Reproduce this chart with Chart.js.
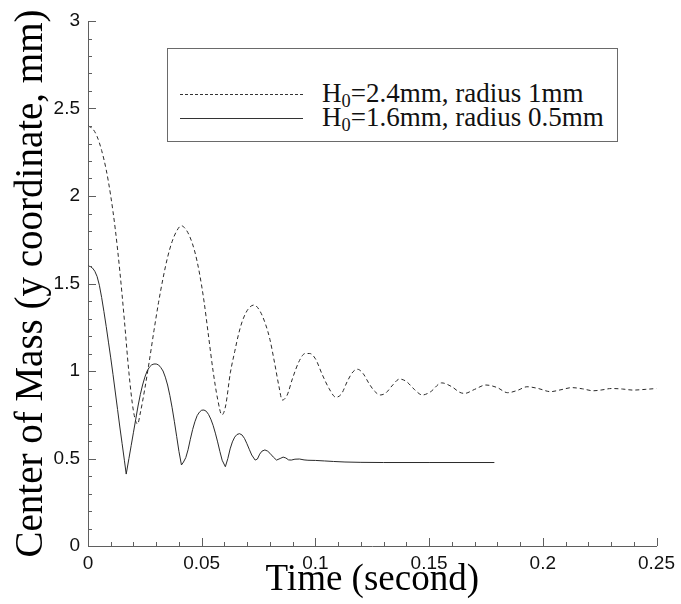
<!DOCTYPE html>
<html>
<head>
<meta charset="utf-8">
<script src="https://cdn.jsdelivr.net/npm/chart.js@4/dist/chart.umd.min.js"></script>
<style>
  html, body { margin: 0; padding: 0; background: #fff; }
  #wrap { position: relative; width: 681px; height: 604px; }
  #chart { position: absolute; left: 0; top: 0; }
  #legend {
    position: absolute; left: 167px; top: 48px; width: 451px; height: 94px;
    border: 1px solid #6a6a6a; background: #fff; box-sizing: border-box;
  }
  .row { position: absolute; left: 0; width: 100%; height: 24px; }
  .row svg { position: absolute; left: 12px; top: 0; }
  .row span {
    position: absolute; left: 154px; top: -2px; white-space: nowrap; color: #111;
    font-family: "Liberation Serif", "Times New Roman", serif; font-size: 27px; line-height: 27px;
  }
  .row sub { font-size: 0.68em; vertical-align: -5px; line-height: 0; }
</style>
</head>
<body>
<div id="wrap">
  <canvas id="chart" width="681" height="604"></canvas>
  <div id="legend">
    <div class="row" style="top:33px">
      <svg width="124" height="24"><line x1="0" y1="12.5" x2="123" y2="12.5" stroke="#333" stroke-width="1" stroke-dasharray="3,2"/></svg>
      <span>H<sub>0</sub>=2.4mm, radius 1mm</span>
    </div>
    <div class="row" style="top:57px">
      <svg width="124" height="24"><line x1="0" y1="12.5" x2="123" y2="12.5" stroke="#333" stroke-width="1"/></svg>
      <span>H<sub>0</sub>=1.6mm, radius 0.5mm</span>
    </div>
  </div>
</div>
<script>
// Centro de massa ao longo do tempo, duas gotas.
const dashTime = [0, 0.002, 0.004, 0.006, 0.008, 0.010, 0.012, 0.014, 0.016, 0.018, 0.020, 0.0218,
  0.023, 0.025, 0.027, 0.029, 0.031, 0.033, 0.035, 0.037, 0.039, 0.041, 0.043, 0.045, 0.047, 0.049,
  0.051, 0.053, 0.055, 0.057, 0.0589, 0.0605, 0.0626, 0.0645, 0.0662, 0.068, 0.0705, 0.073, 0.0755,
  0.078, 0.080, 0.082, 0.084, 0.0854, 0.0875, 0.090, 0.093, 0.0955, 0.0975,
  0.100, 0.103, 0.106, 0.109, 0.1115, 0.114, 0.1165, 0.1185, 0.121, 0.1235, 0.126, 0.1285, 0.131, 0.134,
  0.137, 0.140, 0.1435, 0.147, 0.1505, 0.1555, 0.160, 0.1635, 0.1656, 0.170, 0.175, 0.180, 0.1845, 0.189,
  0.193, 0.198, 0.2034, 0.208, 0.2128, 0.2175, 0.2222, 0.226, 0.2302, 0.235, 0.2397, 0.245, 0.25];
const dashY = [2.40, 2.385, 2.34, 2.26, 2.15, 2.00, 1.81, 1.57, 1.29, 0.99, 0.77, 0.697,
  0.76, 0.90, 1.06, 1.23, 1.39, 1.53, 1.65, 1.74, 1.80, 1.83, 1.81, 1.76, 1.68, 1.56,
  1.40, 1.20, 1.00, 0.84, 0.749, 0.80, 0.99, 1.11, 1.21, 1.29, 1.355, 1.377, 1.345,
  1.27, 1.18, 1.05, 0.91, 0.834, 0.86, 0.96, 1.06, 1.10, 1.10,
  1.07, 0.98, 0.90, 0.85, 0.87, 0.94, 0.995, 1.01, 0.985, 0.93, 0.885, 0.863, 0.875, 0.92,
  0.954, 0.94, 0.895, 0.863, 0.88, 0.932, 0.91, 0.878, 0.872, 0.895, 0.92, 0.905, 0.876, 0.89,
  0.91, 0.9, 0.882, 0.893, 0.905, 0.898, 0.887, 0.892, 0.90, 0.897, 0.891, 0.895, 0.90];

const solidTime = [0, 0.001, 0.002, 0.003, 0.004, 0.005, 0.006, 0.007, 0.008, 0.009, 0.010, 0.011, 0.012,
  0.013, 0.014, 0.015, 0.016, 0.0168, 0.018, 0.019, 0.020, 0.021, 0.022, 0.023, 0.024, 0.025, 0.026,
  0.027, 0.028, 0.029, 0.030, 0.031, 0.032, 0.033, 0.034, 0.035, 0.036, 0.037, 0.038, 0.039, 0.040,
  0.0411, 0.042, 0.043, 0.044, 0.045, 0.046, 0.047, 0.048, 0.049, 0.050, 0.051, 0.052, 0.053, 0.054,
  0.055, 0.056, 0.057, 0.058, 0.059, 0.0604, 0.0615, 0.0625, 0.0635, 0.0645, 0.0655, 0.0666, 0.0677,
  0.0688, 0.0698, 0.071, 0.072, 0.0735, 0.0745, 0.0755, 0.0765, 0.0778, 0.079, 0.080, 0.0815, 0.0829,
  0.0845, 0.0858, 0.087, 0.0882, 0.0894, 0.091, 0.093, 0.095, 0.0967, 0.100, 0.104, 0.108, 0.113,
  0.120, 0.13, 0.15, 0.1787];
const solidY = [1.600, 1.597, 1.588, 1.570, 1.54, 1.49, 1.42, 1.34, 1.255, 1.165, 1.075, 0.98, 0.88,
  0.78, 0.68, 0.585, 0.49, 0.411, 0.50, 0.575, 0.65, 0.725, 0.80, 0.865, 0.92, 0.965, 1.00,
  1.022, 1.035, 1.04, 1.04, 1.035, 1.02, 1.00, 0.965, 0.92, 0.86, 0.79, 0.71, 0.625, 0.54,
  0.463, 0.48, 0.505, 0.55, 0.61, 0.665, 0.71, 0.745, 0.765, 0.776, 0.777, 0.77, 0.752, 0.725,
  0.69, 0.645, 0.595, 0.54, 0.49, 0.453, 0.50, 0.555, 0.595, 0.622, 0.637, 0.642, 0.635,
  0.615, 0.587, 0.55, 0.52, 0.491, 0.497, 0.525, 0.542, 0.549, 0.542, 0.53, 0.508, 0.491,
  0.50, 0.508, 0.503, 0.492, 0.491, 0.496, 0.497, 0.492, 0.490, 0.489, 0.486, 0.483, 0.480,
  0.478, 0.477, 0.477, 0.477];

const X_MIN = 0, X_MAX = 0.25, X_STEP = 0.01, X_MAJOR = 0.05;
const Y_MIN = 0, Y_MAX = 3, Y_STEP = 0.1, Y_MAJOR = 0.5;

const AXIS_COLOR = "#5f5f5f";
const INK = "#111";
const LINE_COLOR = "#2a2a2a";

function isMajor(v, major) {
  const r = v / major;
  return Math.abs(r - Math.round(r)) < 1e-6;
}
function fmt(v) { return String(+v.toFixed(3)); }

// ticks para dentro da área do gráfico, maiores nos valores rotulados
const innerTicks = {
  id: "innerTicks",
  afterDatasetsDraw(chart) {
    const ctx = chart.ctx;
    const area = chart.chartArea;
    const sx = chart.scales.x;
    const sy = chart.scales.y;
    ctx.save();
    ctx.strokeStyle = AXIS_COLOR;
    ctx.lineWidth = 1;
    ctx.setLineDash([]);
    ctx.beginPath();
    sx.ticks.forEach((t) => {
      const px = Math.round(sx.getPixelForValue(t.value)) + 0.5;
      const len = isMajor(t.value, X_MAJOR) ? 8 : 4;
      ctx.moveTo(px, area.bottom);
      ctx.lineTo(px, area.bottom - len);
    });
    sy.ticks.forEach((t) => {
      const py = Math.round(sy.getPixelForValue(t.value)) + 0.5;
      const len = isMajor(t.value, Y_MAJOR) ? 8 : 4;
      ctx.moveTo(area.left, py);
      ctx.lineTo(area.left + len, py);
    });
    ctx.stroke();
    ctx.restore();
  },
};

const toPoints = (xs, ys) => xs.map((x, i) => ({ x, y: ys[i] }));

new Chart(document.getElementById("chart"), {
  type: "line",
  data: {
    datasets: [
      {
        label: "H0=2.4mm, radius 1mm", data: toPoints(dashTime, dashY),
        borderColor: LINE_COLOR, borderWidth: 1, borderDash: [4, 3], pointRadius: 0,
        cubicInterpolationMode: "monotone", fill: false,
      },
      {
        label: "H0=1.6mm, radius 0.5mm", data: toPoints(solidTime, solidY),
        borderColor: LINE_COLOR, borderWidth: 1, pointRadius: 0, tension: 0, fill: false,
      },
    ],
  },
  options: {
    responsive: false,
    devicePixelRatio: 1,
    animation: false,
    layout: { padding: { top: 21, right: 19, bottom: 0, left: 0 } },
    plugins: { legend: { display: false }, tooltip: { enabled: false } },
    scales: {
      x: {
        type: "linear", min: X_MIN, max: X_MAX,
        afterFit: (s) => { s.height = 58; },
        ticks: {
          stepSize: X_STEP, autoSkip: false, maxRotation: 0, padding: 6,
          color: INK, font: { family: "'Liberation Sans', Arial, sans-serif", size: 19 },
          callback: (v) => (isMajor(v, X_MAJOR) ? fmt(v) : ""),
        },
        grid: { display: false, drawTicks: false },
        border: { color: AXIS_COLOR, width: 1 },
        title: {
          display: true, text: "Time (second)", color: "#000",
          font: { family: "'Liberation Serif', 'Times New Roman', serif", size: 37 },
          padding: { top: 0, bottom: 2 },
        },
      },
      y: {
        type: "linear", min: Y_MIN, max: Y_MAX,
        afterFit: (s) => { s.width = 88; },
        ticks: {
          stepSize: Y_STEP, autoSkip: false, padding: 8,
          color: INK, font: { family: "'Liberation Sans', Arial, sans-serif", size: 19 },
          callback: (v) => (isMajor(v, Y_MAJOR) ? fmt(v) : ""),
        },
        grid: { display: false, drawTicks: false },
        border: { color: AXIS_COLOR, width: 1 },
        title: {
          display: true, text: "Center of Mass (y coordinate, mm)", color: "#000",
          font: { family: "'Liberation Serif', 'Times New Roman', serif", size: 39 },
          padding: { top: 8, bottom: 0 },
        },
      },
    },
  },
  plugins: [innerTicks],
});
</script>
</body>
</html>
